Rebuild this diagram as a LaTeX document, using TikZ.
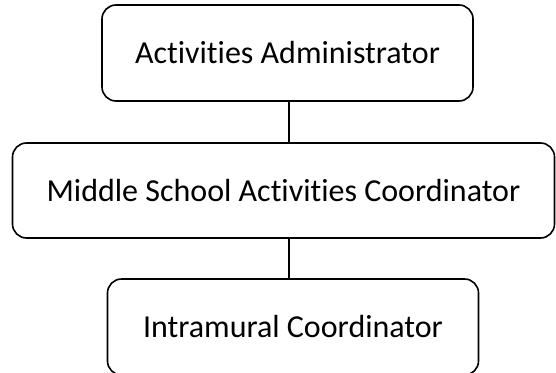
\documentclass[tikz,border=0pt]{standalone}
\usepackage{fontspec}
\setmainfont{Carlito}[Ligatures={NoCommon}]
\begin{document}
\begin{tikzpicture}[x=1pt,y=-1pt,
  role/.style={draw=black, line width=1.6pt, rounded corners=14pt,
    rectangle, inner sep=0pt, align=center,
    font=\fontsize{32}{38}\selectfont},
  link/.style={line width=2.6pt}]
  \useasboundingbox (0,0) rectangle (556,372);
  \node[role, minimum width=371pt, minimum height=96pt] (admin) at (287.5,53) {Activities Administrator};
  \node[role, minimum width=542pt, minimum height=95pt] (msac) at (283.5,190.5) {Middle School Activities Coordinator};
  \node[role, minimum width=371pt, minimum height=96pt] (intra) at (293,327) {Intramural Coordinator};
  \coordinate (spine) at (289,0);
  \draw[link] (admin.south -| spine) -- (msac.north -| spine);
  \draw[link] (msac.south -| spine) -- (intra.north -| spine);
\end{tikzpicture}
\end{document}
